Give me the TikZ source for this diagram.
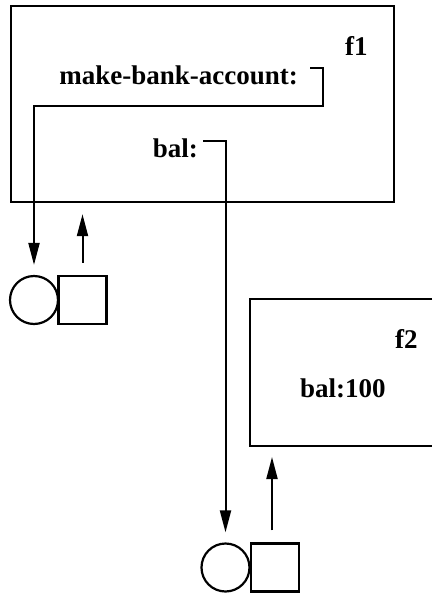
\documentclass[tikz,border=0pt]{standalone}
\usepackage{fontspec}
\setmainfont{Liberation Serif}
\usetikzlibrary{arrows.meta,positioning,calc}

\begin{document}
\begin{tikzpicture}[x=1pt, y=-1pt,
    lbl/.style={font=\fontsize{27}{30}\selectfont\bfseries, inner sep=0pt},
    frame/.style={draw, line width=2.4pt, inner sep=0pt},
    ptr/.style={line width=2pt, -{Triangle[length=22pt,width=11pt]}},
    obj/.style={draw, line width=2.2pt, inner sep=0pt, minimum size=48pt}]
    \useasboundingbox (0,0) rectangle (432,595);

    % Frame f1
    \node[frame, minimum width=383pt, minimum height=196pt] (f1) at (202.5,104) {};
    \node[lbl, anchor=base west] (f1name) at (345,55) {f1};
    \node[lbl, anchor=base east] (mba) at (298,84) {make-bank-account:};
    \node[lbl, anchor=base east] (bal) at (198,157) {bal:};

    % Frame f2 (open on the right)
    \draw[line width=2.4pt] (432,299) -- (250,299) -- (250,446) coordinate (f2sw) -- (432,446);
    \node[lbl, anchor=base west] (f2name) at (395,348) {f2};
    \node[lbl, anchor=base west] (bal100) at (300,397) {bal:100};

    % Procedure objects
    \node[obj, circle] (c1) at (34,300) {};
    \node[obj, rectangle] (s1) at (82.5,300) {};
    \node[obj, circle] (c2) at (225.5,567.5) {};
    \node[obj, rectangle] (s2) at (275,567.5) {};

    % Pointers
    \draw[ptr, shorten >=10pt] ([xshift=12pt,yshift=16pt]mba.base east) -| ++(13,38) -| (c1.north);
    \draw[ptr, shorten >=10pt] ([xshift=5pt,yshift=16pt]bal.base east) -| (c2.north);
    \draw[ptr, shorten <=12pt, shorten >=11pt] (s1.north) -- (s1.north |- f1.south);
    \draw[ptr, shorten <=12pt, shorten >=11pt] ([xshift=-3pt]s2.north) -- ([xshift=-3pt]s2.north |- f2sw);
\end{tikzpicture}
\end{document}
